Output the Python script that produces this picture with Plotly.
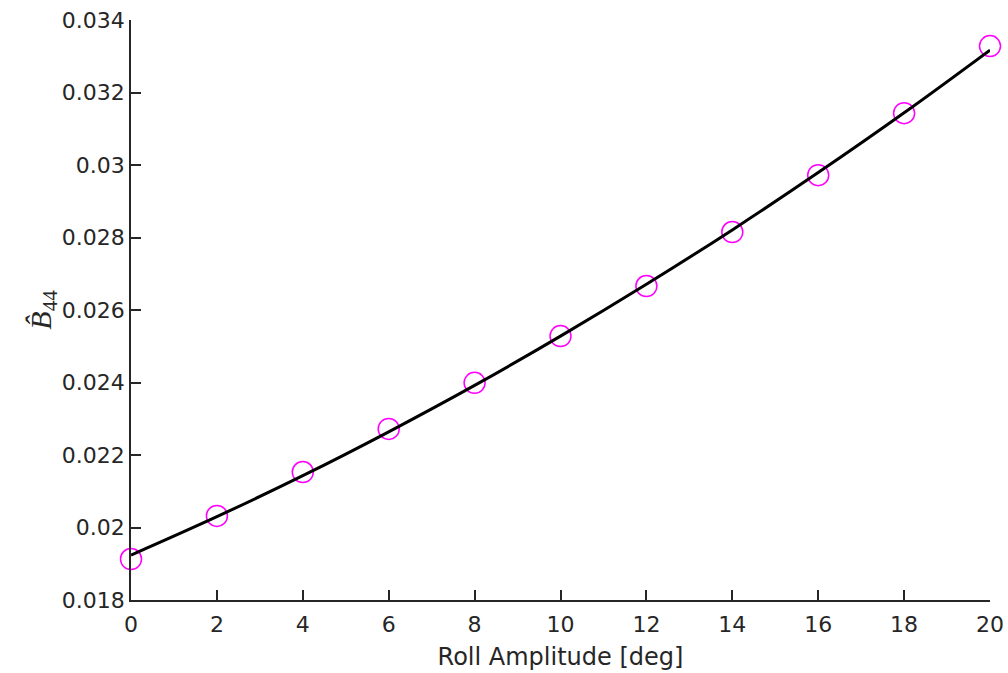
import plotly.graph_objects as go

# Measured data points
amp_deg = [0, 2, 4, 6, 8, 10, 12, 14, 16, 18, 20]
b44_meas = [0.01913, 0.02032, 0.02153, 0.02272, 0.02399, 0.02528,
            0.02666, 0.02815, 0.02972, 0.03143, 0.03328]

# Fitted curve
fit_x = [0, 2, 4, 6, 8, 10, 12, 14, 16, 18, 20]
fit_y = [0.01924, 0.02030, 0.02143, 0.02264, 0.02392, 0.02528,
         0.02671, 0.02821, 0.02979, 0.03144, 0.03317]

x_ticks = [0, 2, 4, 6, 8, 10, 12, 14, 16, 18, 20]
y_ticks = [0.018, 0.020, 0.022, 0.024, 0.026, 0.028, 0.030, 0.032, 0.034]
y_tick_text = ["0.018", "0.02", "0.022", "0.024", "0.026", "0.028", "0.03", "0.032", "0.034"]

fig = go.Figure()
fig.add_trace(go.Scatter(
    x=amp_deg, y=b44_meas, mode="markers",
    marker=dict(symbol="circle-open", size=21, color="#ff00ff",
                line=dict(width=1.5, color="#ff00ff")),
    cliponaxis=False, showlegend=False))
fig.add_trace(go.Scatter(
    x=fit_x, y=fit_y, mode="lines", line_shape="spline",
    line=dict(color="black", width=3),
    cliponaxis=False, showlegend=False))

axis_common = dict(
    showgrid=False, zeroline=False, showline=True, linecolor="#262626",
    linewidth=1.5, ticks="inside", ticklen=10, tickwidth=1.5,
    tickcolor="#262626", mirror=False, automargin=False,
    tickfont=dict(family="DejaVu Sans, sans-serif", size=22, color="#262626"),
)

fig.update_layout(
    width=1008, height=673,
    margin=dict(l=131, r=18, t=20, b=73, autoexpand=False),
    plot_bgcolor="white", paper_bgcolor="white",
    xaxis=dict(range=[0, 20], tickvals=x_ticks, ticklabelstandoff=4,
               title=dict(text="Roll Amplitude [deg]", standoff=12,
                          font=dict(family="DejaVu Sans, sans-serif", size=24, color="#262626")),
               **axis_common),
    yaxis=dict(range=[0.018, 0.034], tickvals=y_ticks, ticktext=y_tick_text,
               title=dict(text="<i>B̂</i><sub>44</sub>", standoff=0,
                          font=dict(family="Liberation Serif, serif", size=30, color="#262626")),
               **axis_common),
)

fig.write_html("out.html")
